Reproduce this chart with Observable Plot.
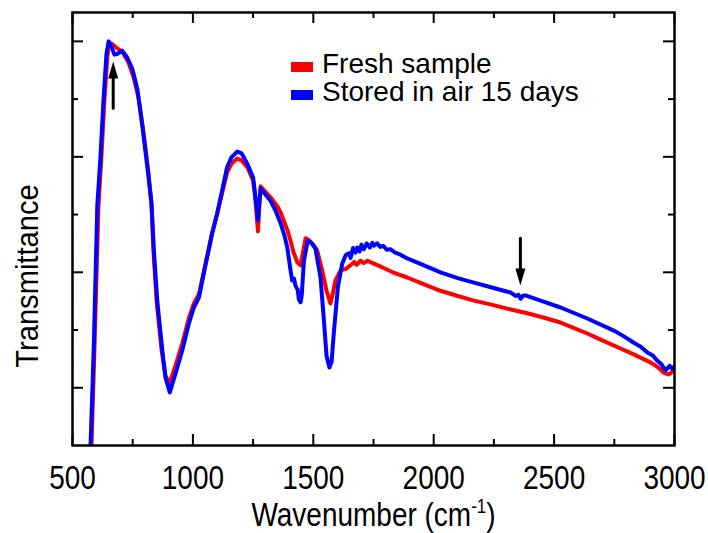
<!DOCTYPE html>
<html>
<head>
<meta charset="utf-8">
<script src="https://cdn.jsdelivr.net/npm/d3@7"></script>
<script src="https://cdn.jsdelivr.net/npm/@observablehq/plot@0.6"></script>
<style>
  body { margin: 0; background: #fff; }
  #wrap { position: relative; width: 708px; height: 533px; font-family: "Liberation Sans", Arial, Helvetica, sans-serif; }
  .leg { position: absolute; left: 291px; font-size: 28px; line-height: 28px; color: #000; white-space: nowrap; }
  .sw { display: inline-block; width: 22px; height: 10px; vertical-align: 0; margin-right: 9px; position: relative; top: -1px; }
</style>
</head>
<body>
<div id="wrap"></div>
<script>
// ---- Data ----
const freshWn = [570, 579, 591, 608, 620, 633, 645, 652, 666, 683, 708, 733, 753, 774, 795, 816, 828, 836, 849, 870, 886, 903, 928, 956, 983, 1004, 1025, 1052, 1080, 1101, 1142, 1160, 1184, 1202, 1226, 1250, 1260, 1270, 1275, 1281, 1322, 1350, 1364, 1385, 1395, 1405, 1419, 1434, 1447, 1468, 1484, 1500, 1516, 1537, 1555, 1571, 1582, 1592, 1613, 1635, 1654, 1670, 1680, 1696, 1710, 1725, 1751, 1790, 1830, 1890, 1960, 2028, 2100, 2167, 2240, 2305, 2380, 2444, 2527, 2638, 2700, 2776, 2840, 2900, 2930, 2956, 2975, 3000];
const freshT  = [-3, 0, 16.5, 41.6, 49.9, 60.1, 67.5, 69.8, 69.5, 68.9, 68.1, 66.3, 63.9, 60.3, 54.2, 47.1, 41.6, 33.8, 25.1, 16.5, 12.1, 10.7, 13.9, 17.7, 22.0, 24.6, 26.2, 31.4, 36.9, 40.2, 47.3, 48.8, 49.7, 49.4, 48.2, 45.9, 42.4, 37.1, 40.7, 44.9, 43.0, 41.5, 40.4, 38.1, 37.0, 35.5, 33.3, 31.7, 31.2, 35.9, 35.5, 34.8, 33.8, 30.3, 26.8, 24.6, 26.5, 28.6, 30.3, 30.6, 31.2, 31.8, 31.3, 32.0, 31.6, 32.0, 31.5, 30.8, 30.0, 29.1, 27.9, 26.8, 25.9, 25.1, 24.4, 23.7, 23.0, 22.3, 21.3, 19.4, 18.2, 16.8, 15.6, 14.4, 13.6, 12.6, 12.3, 13.0];
const storedWn = [568, 575, 588, 603, 616, 629, 641, 650, 660, 674, 690, 706, 727, 748, 769, 790, 810, 828, 838, 852, 873, 886, 904, 928, 956, 983, 1004, 1025, 1052, 1080, 1101, 1142, 1160, 1184, 1202, 1226, 1250, 1260, 1270, 1275, 1281, 1322, 1345, 1364, 1380, 1392, 1405, 1412, 1420, 1426, 1435, 1440, 1447, 1452, 1461, 1477, 1493, 1509, 1530, 1544, 1555, 1567, 1576, 1585, 1602, 1620, 1635, 1647, 1655, 1665, 1675, 1682, 1692, 1700, 1710, 1722, 1735, 1745, 1752, 1765, 1778, 1790, 1805, 1820, 1840, 1860, 1890, 1960, 2028, 2100, 2167, 2230, 2291, 2320, 2340, 2352, 2361, 2372, 2381, 2450, 2527, 2638, 2748, 2790, 2831, 2860, 2887, 2910, 2928, 2945, 2963, 2980, 2990, 3000];
const storedT  = [-3, 0, 16.5, 41.6, 49.9, 60.1, 67.8, 70.0, 69.3, 67.7, 67.9, 68.4, 67.2, 65.3, 61.8, 55.4, 48.5, 42.1, 33.8, 25.1, 16.5, 11.8, 9.2, 12.5, 16.5, 21.1, 23.9, 25.6, 31.2, 36.7, 40.2, 48.2, 49.9, 50.9, 50.6, 48.8, 46.4, 43.0, 39.0, 41.6, 44.5, 42.4, 40.5, 38.5, 36.4, 34.3, 30.5, 28.6, 28.9, 27.7, 27.0, 25.3, 24.8, 26.0, 32.0, 35.5, 35.0, 34.1, 29.1, 21.7, 15.5, 13.5, 14.5, 19.4, 27.4, 31.5, 33.0, 33.3, 32.5, 34.2, 33.4, 34.3, 33.6, 34.8, 34.0, 35.0, 34.3, 35.1, 34.6, 35.0, 34.4, 34.6, 33.9, 34.0, 33.4, 33.1, 32.4, 31.2, 30.0, 29.0, 28.2, 27.5, 26.8, 26.5, 25.9, 26.1, 25.4, 26.0, 26.0, 25.0, 23.9, 22.0, 19.9, 18.9, 17.8, 17.1, 16.1, 15.6, 14.7, 14.1, 13.0, 13.8, 13.3, 13.7];

const xMajor = [500, 1000, 1500, 2000, 2500, 3000];
const xMinor = [750, 1250, 1750, 2250, 2750];
const yMajor = [10, 30, 50, 70];
const yMinor = [20, 40, 60];

const arrowWn   = [669, 2360];
const arrowFrom = [58.4, 35.9];
const arrowTo   = [66.5, 27.7];
const arrowRot  = [0, 180];

const seriesNames = ["Fresh sample", "Stored in air 15 days"];
const seriesColors = ["#ff0000", "#0000ff"];
const xTitle = "Wavenumber (cm-1)";
const yTitle = "Transmittance";

// ---- Build tables ----
const fresh = freshWn.map((w, i) => ({wn: w, t: freshT[i]}));
const stored = storedWn.map((w, i) => ({wn: w, t: storedT[i]}));
const arrows = arrowWn.map((w, i) => ({wn: w, from: arrowFrom[i], to: arrowTo[i], rot: arrowRot[i]}));

const W = 708, H = 533, mL = 72, mR = 34, mT = 12, mB = 88;
const pw = W - mL - mR, ph = H - mT - mB;
const headSym = {draw(ctx) { ctx.moveTo(0, 0); ctx.lineTo(5, 17); ctx.lineTo(-5, 17); ctx.closePath(); }};

const svg = Plot.plot({
  width: W, height: H,
  marginLeft: mL, marginRight: mR, marginTop: mT, marginBottom: mB,
  style: {fontFamily: "'Liberation Sans', Arial, Helvetica, sans-serif", fontSize: "28px", color: "#000", background: "#fff", overflow: "visible"},
  x: {domain: [500, 3000]},
  y: {domain: [0, 75], axis: null},
  marks: [
    Plot.line(fresh, {x: "wn", y: "t", stroke: seriesColors[0], strokeWidth: 4, clip: true}),
    Plot.line(stored, {x: "wn", y: "t", stroke: seriesColors[1], strokeWidth: 4, clip: true}),
    Plot.arrow(arrows, {x1: "wn", x2: "wn", y1: "from", y2: "to", headLength: 0, insetEnd: 10, stroke: "#000", strokeWidth: 3}),
    Plot.dot(arrows, {x: "wn", y: "to", symbol: headSym, rotate: "rot", fill: "#000", stroke: "none", r: 6}),
    // inward ticks on all four sides
    Plot.tickX(xMajor, {x: d => d, insetTop: ph - 11, stroke: "#000", strokeWidth: 2}),
    Plot.tickX(xMinor, {x: d => d, insetTop: ph - 6, stroke: "#000", strokeWidth: 2}),
    Plot.tickX(xMajor, {x: d => d, insetBottom: ph - 11, stroke: "#000", strokeWidth: 2}),
    Plot.tickX(xMinor, {x: d => d, insetBottom: ph - 6, stroke: "#000", strokeWidth: 2}),
    Plot.tickY(yMajor, {y: d => d, insetRight: pw - 11, stroke: "#000", strokeWidth: 2}),
    Plot.tickY(yMinor, {y: d => d, insetRight: pw - 6, stroke: "#000", strokeWidth: 2}),
    Plot.tickY(yMajor, {y: d => d, insetLeft: pw - 11, stroke: "#000", strokeWidth: 2}),
    Plot.tickY(yMinor, {y: d => d, insetLeft: pw - 6, stroke: "#000", strokeWidth: 2}),
    Plot.frame({stroke: "#000", strokeWidth: 2.5}),
    Plot.axisX(xMajor, {tickSize: 0, tickPadding: 14, label: null, fontSize: 28, tickFormat: d => String(d)}),
    Plot.text([xTitle], {frameAnchor: "bottom", dy: 72, fontSize: 28, text: d => d}),
    Plot.text([yTitle], {frameAnchor: "left", rotate: -90, fontSize: 28, text: d => d})
  ]
});

// superscript for cm-1
d3.select(svg).selectAll("text").filter(function () { return this.textContent === xTitle; }).each(function () {
  const t = d3.select(this);
  t.text("Wavenumber (cm");
  t.append("tspan").attr("dy", "-11").attr("font-size", "17").text("-1");
  t.append("tspan").attr("dy", "11").text(")");
});

const wrap = document.getElementById("wrap");
wrap.appendChild(svg);
svg.style.position = "absolute"; svg.style.left = "0"; svg.style.top = "0";

// text shaping: slightly taller glyphs, as in the reference
function addTransform(el, extra) {
  el.setAttribute("transform", ((el.getAttribute("transform") || "") + " " + extra).trim());
}
function moveCenter(el, cx, cy) {
  const r = el.getBoundingClientRect();
  const dx = cx == null ? 0 : cx - (r.left + r.width / 2);
  const dy = cy == null ? 0 : cy - (r.top + r.height / 2);
  el.setAttribute("transform", `translate(${dx},${dy}) ` + (el.getAttribute("transform") || ""));
}
const tickLabelSet = new Set(xMajor.map(String));
d3.select(svg).selectAll("text").each(function () {
  const s = this.textContent;
  if (tickLabelSet.has(s)) { addTransform(this, "scale(1,1.2)"); moveCenter(this, null, 478); }
  else if (s === "Wavenumber (cm-1)") { addTransform(this, "scale(1,1.2)"); moveCenter(this, null, 514); }
  else if (s === yTitle) { addTransform(this, "scale(1.04,1.1)"); moveCenter(this, 27, 276); }
});

seriesNames.forEach((name, i) => {
  const row = document.createElement("div");
  row.className = "leg";
  row.style.top = (50 + 28 * i) + "px";
  const sw = document.createElement("span");
  sw.className = "sw";
  sw.style.background = seriesColors[i];
  row.appendChild(sw);
  row.appendChild(document.createTextNode(name));
  wrap.appendChild(row);
});
</script>
</body>
</html>
